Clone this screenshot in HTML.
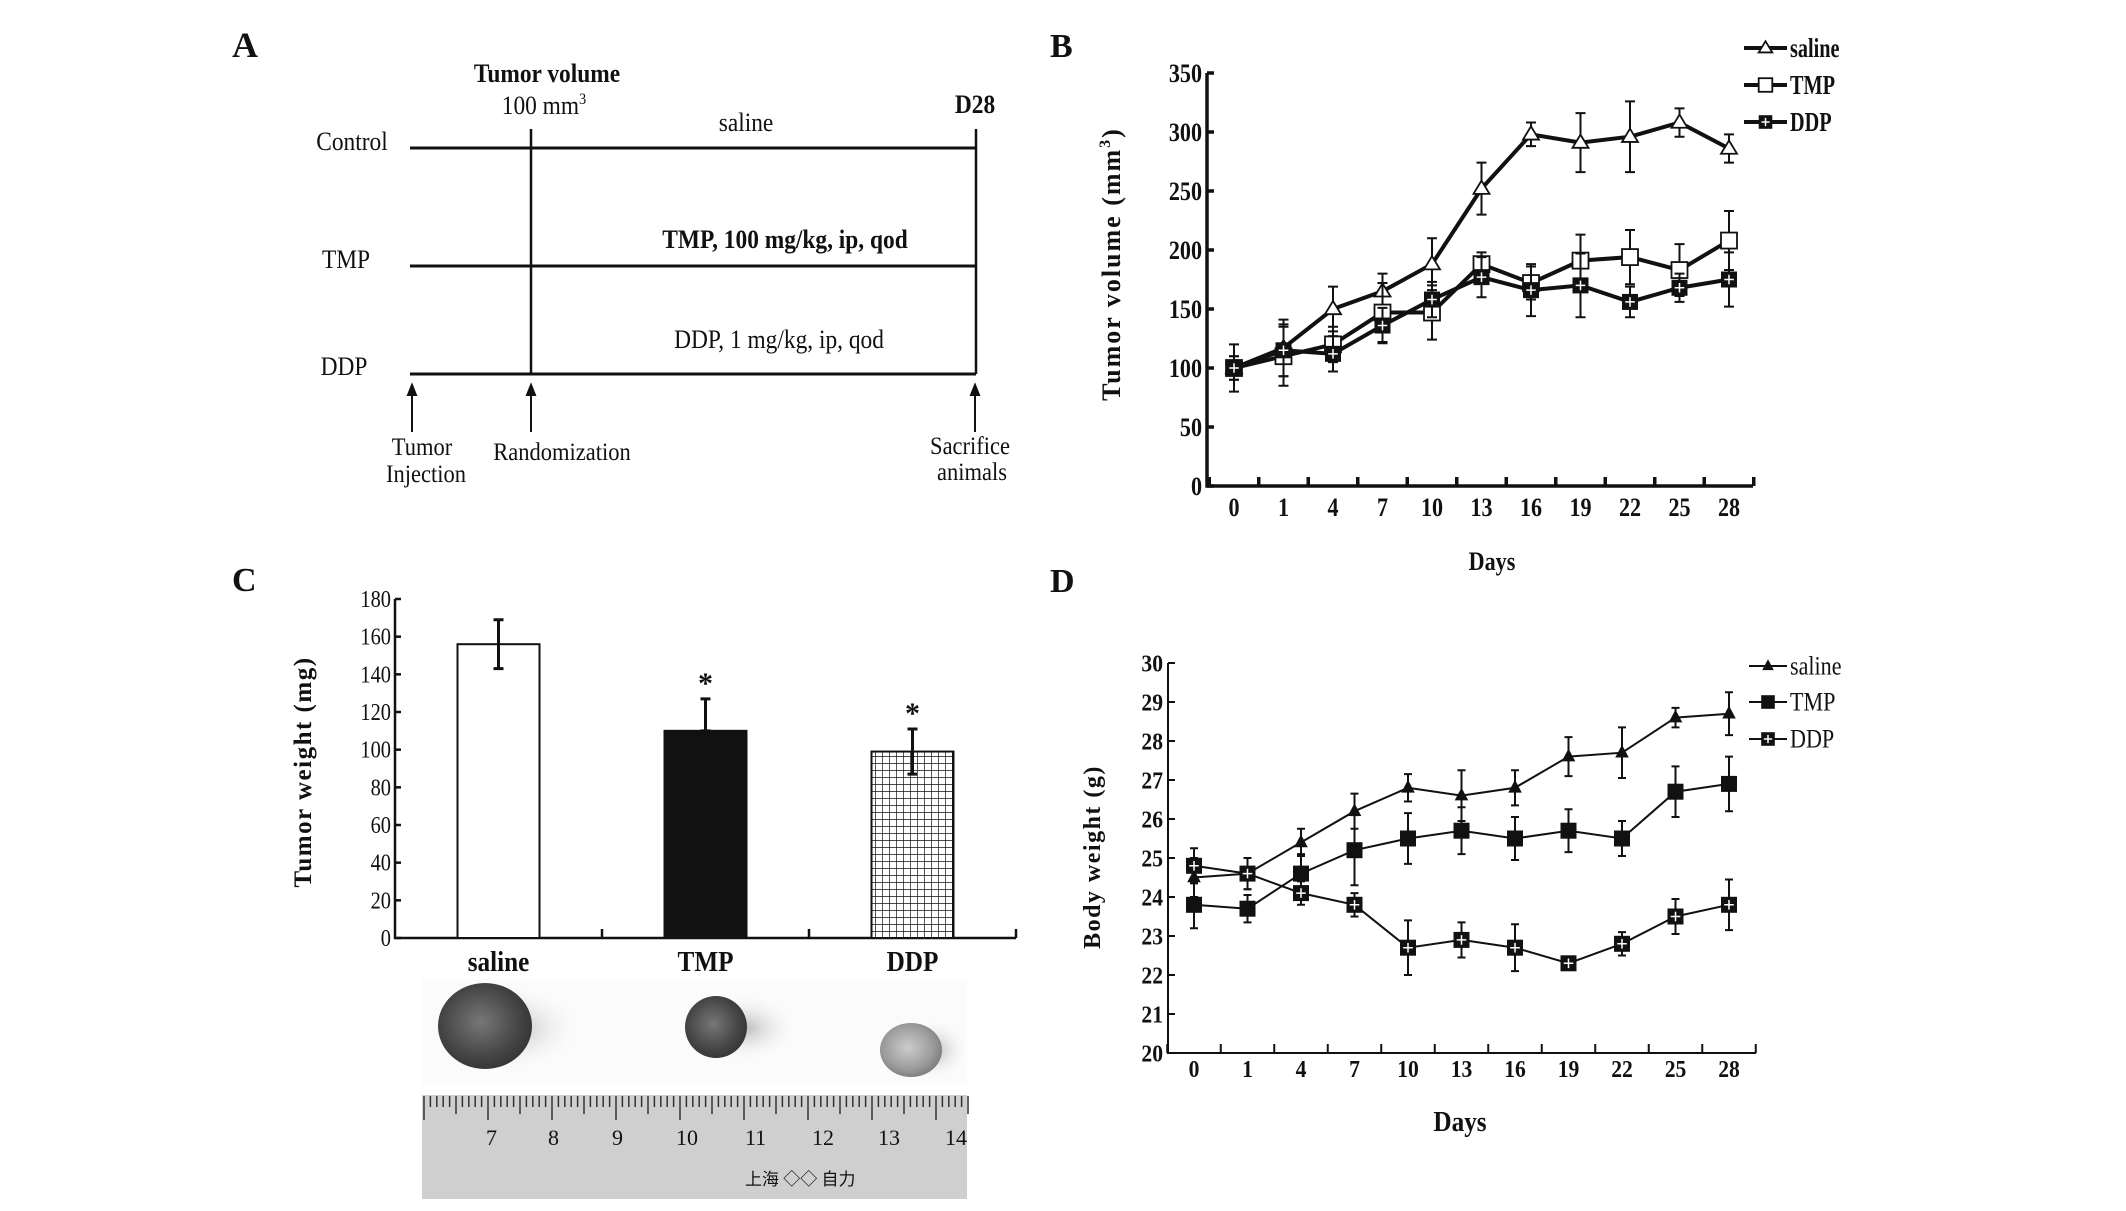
<!DOCTYPE html>
<html><head><meta charset="utf-8"><style>html,body{margin:0;padding:0;background:#fff;overflow:hidden}svg{display:block}text{font-family:"Liberation Serif",serif;fill:#111}</style></head>
<body>
<svg id="fig" width="2126" height="1211" viewBox="0 0 2126 1211" xmlns="http://www.w3.org/2000/svg">
<defs>
<pattern id="grid" width="7" height="7" patternUnits="userSpaceOnUse"><rect width="7" height="7" fill="#fff"/><path d="M0 0H7M0 0V7" stroke="#111" stroke-width="1.4"/></pattern>
<radialGradient id="tum" cx="0.45" cy="0.45" r="0.6"><stop offset="0" stop-color="#777"/><stop offset="0.7" stop-color="#444"/><stop offset="1" stop-color="#333"/></radialGradient>
<radialGradient id="tum2" cx="0.45" cy="0.45" r="0.6"><stop offset="0" stop-color="#ccc"/><stop offset="0.7" stop-color="#999"/><stop offset="1" stop-color="#777"/></radialGradient>
<radialGradient id="shadow" cx="0.5" cy="0.5" r="0.5"><stop offset="0" stop-color="#bbb"/><stop offset="1" stop-color="#fff" stop-opacity="0"/></radialGradient>
</defs>
<!-- Panel A -->
<g>
<text x="232" y="57" font-size="36" font-weight="bold">A</text>
<line x1="410" y1="148" x2="976" y2="148" stroke="#111" stroke-width="3"/>
<line x1="410" y1="266" x2="976" y2="266" stroke="#111" stroke-width="3"/>
<line x1="410" y1="374" x2="976" y2="374" stroke="#111" stroke-width="3"/>
<line x1="531" y1="129" x2="531" y2="374" stroke="#111" stroke-width="2.5"/>
<line x1="976" y1="129" x2="976" y2="374" stroke="#111" stroke-width="2.5"/>
<g stroke="#111" stroke-width="2" fill="#111">
<line x1="412" y1="432" x2="412" y2="392"/><path d="M408 395L412 385L416 395Z"/>
<line x1="531" y1="432" x2="531" y2="392"/><path d="M527 395L531 385L535 395Z"/>
<line x1="975" y1="432" x2="975" y2="392"/><path d="M971 395L975 385L979 395Z"/>
</g>
<g font-size="26" text-anchor="middle">
<text transform="translate(547,82) scale(0.9,1)" font-weight="bold">Tumor volume</text>
<text transform="translate(544,114) scale(0.9,1)">100 mm<tspan font-size="16" dy="-10">3</tspan></text>
<text transform="translate(975,113) scale(0.9,1)" font-weight="bold">D28</text>
<text transform="translate(746,131) scale(0.9,1)">saline</text>
<text transform="translate(352,150) scale(0.9,1)">Control</text>
<text transform="translate(346,268) scale(0.9,1)">TMP</text>
<text transform="translate(344,375) scale(0.9,1)">DDP</text>
<text transform="translate(785,248) scale(0.9,1)" font-weight="bold">TMP, 100 mg/kg, ip, qod</text>
<text transform="translate(779,348) scale(0.9,1)">DDP, 1 mg/kg, ip, qod</text>
<text transform="translate(422,455) scale(0.9,1)" font-size="25">Tumor</text>
<text transform="translate(426,482) scale(0.9,1)" font-size="25">Injection</text>
<text transform="translate(562,460) scale(0.9,1)" font-size="25">Randomization</text>
<text transform="translate(970,454) scale(0.9,1)" font-size="25">Sacrifice</text>
<text transform="translate(972,480) scale(0.9,1)" font-size="25">animals</text>
</g>
</g>
<text x="1050" y="57" font-size="34" font-weight="bold">B</text>
<text x="232" y="591" font-size="34" font-weight="bold">C</text>
<text x="1050" y="592" font-size="34" font-weight="bold">D</text>
<g id="gB"></g>
<g id="gC"></g>
<g id="gD"></g>
<!-- photo -->
<g>
<rect x="422" y="979" width="545" height="106" fill="#fbfbfb"/>
<ellipse cx="510" cy="1028" rx="75" ry="45" fill="url(#shadow)"/>
<ellipse cx="485" cy="1026" rx="47" ry="43" fill="url(#tum)"/>
<ellipse cx="745" cy="1028" rx="55" ry="36" fill="url(#shadow)"/>
<ellipse cx="716" cy="1027" rx="31" ry="31" fill="url(#tum)"/>
<ellipse cx="935" cy="1050" rx="35" ry="32" fill="url(#shadow)"/>
<ellipse cx="911" cy="1050" rx="31" ry="27" fill="url(#tum2)"/>
<rect x="422" y="1095" width="545" height="104" fill="#cfcfcf"/>
<g id="ruler"></g>
<g font-family="Liberation Sans" font-size="22" fill="#333">
<text x="486" y="1145">7</text><text x="548" y="1145">8</text><text x="612" y="1145">9</text><text x="676" y="1145">10</text><text x="745" y="1145">11</text><text x="812" y="1145">12</text><text x="878" y="1145">13</text><text x="945" y="1145">14</text>
</g>
<text x="745" y="1185" font-family="Liberation Sans, Noto Sans CJK SC, sans-serif" font-size="17" fill="#444">上海 ◇◇ 自力</text>
</g>
</svg>
<script>
const NS="http://www.w3.org/2000/svg";
function mk(p,t,a){const e=document.createElementNS(NS,t);for(const k in a)e.setAttribute(k,a[k]);p.appendChild(e);return e;}
function txt(p,x,y,s,size,anchor,sx,bold){const e=mk(p,"text",{transform:`translate(${x},${y}) scale(${sx||1},1)`,"font-size":size,"text-anchor":anchor||"middle","font-weight":bold?"bold":"normal"});e.textContent=s;return e;}

// ---- Data B ----
const daysB=["0","1","4","7","10","13","16","19","22","25","28"];
const salineB=[100,117,150,165,188,252,298,291,296,308,286];
const salineBErr=[20,24,19,15,22,22,10,25,30,12,12];
const tmpB=[100,110,120,147,147,188,172,191,194,183,208];
const tmpBErr=[10,25,15,25,23,10,14,22,23,22,25];
const ddpB=[100,115,112,136,158,177,166,170,156,168,175];
const ddpBErr=[10,22,15,15,15,17,22,27,13,12,23];
const ticksB=[0,50,100,150,200,250,300,350];
// ---- Data C ----
const groupsC=["saline","TMP","DDP"];
const weightC=[156,110,99];
const weightCErr=[13,17,12];
const ticksC=[0,20,40,60,80,100,120,140,160,180];
// ---- Data D ----
const daysD=["0","1","4","7","10","13","16","19","22","25","28"];
const salineD=[24.5,24.6,25.4,26.2,26.8,26.6,26.8,27.6,27.7,28.6,28.7];
const salineDErr=[0.5,0.4,0.35,0.45,0.35,0.65,0.45,0.5,0.65,0.25,0.55];
const tmpD=[23.8,23.7,24.6,25.2,25.5,25.7,25.5,25.7,25.5,26.7,26.9];
const tmpDErr=[0.6,0.35,0.5,0.9,0.65,0.6,0.55,0.55,0.45,0.65,0.7];
const ddpD=[24.8,24.6,24.1,23.8,22.7,22.9,22.7,22.3,22.8,23.5,23.8];
const ddpDErr=[0.45,0.4,0.3,0.3,0.7,0.45,0.6,0.1,0.3,0.45,0.65];
const ticksD=[20,21,22,23,24,25,26,27,28,29,30];

function marker(g,type,x,y,s,sw){
  if(type==="tri-open")return mk(g,"path",{d:`M${x} ${y-s}L${x+s} ${y+s*0.65}L${x-s} ${y+s*0.65}Z`,fill:"#fff",stroke:"#111","stroke-width":sw});
  if(type==="tri")return mk(g,"path",{d:`M${x} ${y-s}L${x+s*0.85} ${y+s*0.6}L${x-s*0.85} ${y+s*0.6}Z`,fill:"#111"});
  if(type==="sq-open")return mk(g,"rect",{x:x-s,y:y-s,width:2*s,height:2*s,fill:"#fff",stroke:"#111","stroke-width":sw});
  if(type==="sq")return mk(g,"rect",{x:x-s,y:y-s,width:2*s,height:2*s,fill:"#111"});
  const r=mk(g,"g",{});mk(r,"rect",{x:x-s,y:y-s,width:2*s,height:2*s,fill:"#111"});
  mk(r,"path",{d:`M${x-s*0.6} ${y}H${x+s*0.6}M${x} ${y-s*0.6}V${y+s*0.6}`,stroke:"#fff","stroke-width":1.5});return r;
}

function lineChart(g,cfg){
  const{x0,x1,c0,c1,y0,y1,vmin,vmax,cats,ticks,series,lw,ms,bw,axw,fs,sx}=cfg;
  const X=i=>c0+(c1-c0)*i/(cats.length-1);
  const Y=v=>y0+(y1-y0)*(v-vmin)/(vmax-vmin);
  const ax=mk(g,"g",{stroke:"#111","stroke-width":axw,fill:"none"});
  
  
  mk(ax,"path",{d:`M${x0} ${Y(vmax)}V${y0}H${x1}`});
  const step=(c1-c0)/(cats.length-1);
  for(let i=0;i<=cats.length;i++){const tx=c0-step/2+i*step;if(tx<=x1+1)mk(ax,"line",{x1:tx,y1:y0,x2:tx,y2:y0-9});}
  ticks.forEach(t=>{mk(ax,"line",{x1:x0,y1:Y(t),x2:x0+7,y2:Y(t)});
    const l=txt(g,x0-5,Y(t)+fs*0.35,String(t),fs,"end",sx,true);
    
    });
  cats.forEach((c,i)=>{const l=txt(g,X(i),cfg.tly,c,fs,"middle",sx,true);
    
    });
  series.forEach(s=>{
    const sg=mk(g,"g",{});
    
    
    s.vals.forEach((v,i)=>{const x=X(i);mk(sg,"path",{d:`M${x} ${Y(v-s.err[i])}V${Y(v+s.err[i])}M${x-bw} ${Y(v-s.err[i])}H${x+bw}M${x-bw} ${Y(v+s.err[i])}H${x+bw}`,stroke:"#111","stroke-width":2,fill:"none"});});
    mk(sg,"polyline",{points:s.vals.map((v,i)=>X(i)+","+Y(v)).join(" "),fill:"none",stroke:"#111","stroke-width":lw});
    s.vals.forEach((v,i)=>{const m=marker(sg,s.m,X(i),Y(v),ms,1.8);
      
      });
  });
  cfg.legend.forEach((s,i)=>{const y=cfg.ly[i];const lg=mk(g,"g",{});
    
    
    mk(lg,"line",{x1:cfg.lx0,y1:y,x2:cfg.lx1,y2:y,stroke:"#111","stroke-width":lw});
    marker(lg,s.m,(cfg.lx0+cfg.lx1)/2,y,ms*0.85,1.8);
    txt(lg,cfg.lx1+3,y+fs*0.35,s.label,cfg.lfs,"start",cfg.lsx,cfg.lbold);});
}

const gB=document.getElementById("gB");
const serB=[{name:"saline-series",label:"saline",vals:salineB,err:salineBErr,m:"tri-open"},{name:"tmp-series",label:"TMP",vals:tmpB,err:tmpBErr,m:"sq-open"},{name:"ddp-series",label:"DDP",vals:ddpB,err:ddpBErr,m:"sq-cross"}];
lineChart(gB,{x0:1207,x1:1753,c0:1234,c1:1729,y0:486,y1:73,vmin:0,vmax:350,cats:daysB,ticks:ticksB,series:serB,lw:4,ms:8,bw:5,axw:3.5,fs:26,sx:0.85,tly:516,legend:serB,ly:[48,85,122],lx0:1744,lx1:1787,lfs:27,lsx:0.75,lbold:true});
let t=txt(gB,1492,570,"Days",26,"middle",0.85,true);
t=mk(gB,"text",{transform:"translate(1120,264) rotate(-90)","font-size":26,"font-weight":"bold","text-anchor":"middle","letter-spacing":"2"});t.innerHTML='Tumor volume (mm<tspan font-size="16" dy="-10">3</tspan><tspan dy="10">)</tspan>';


const gD=document.getElementById("gD");
const serD=[{name:"saline-series",label:"saline",vals:salineD,err:salineDErr,m:"tri"},{name:"tmp-series",label:"TMP",vals:tmpD,err:tmpDErr,m:"sq"},{name:"ddp-series",label:"DDP",vals:ddpD,err:ddpDErr,m:"sq-cross"}];
lineChart(gD,{x0:1168,x1:1756,c0:1194,c1:1729,y0:1053,y1:663,vmin:20,vmax:30,cats:daysD,ticks:ticksD,series:serD,lw:2,ms:8,bw:4,axw:2,fs:24,sx:0.9,tly:1077,legend:serD,ly:[666,702,739],lx0:1749,lx1:1787,lfs:26,lsx:0.85,lbold:false});
t=txt(gD,1460,1131,"Days",28,"middle",0.9,true);
t=mk(gD,"text",{transform:"translate(1100,857) rotate(-90)","font-size":24,"font-weight":"bold","text-anchor":"middle","letter-spacing":"1.5"});t.textContent="Body weight (g)";


// Bar chart C
const gC=document.getElementById("gC");
(function(){
  const x0=395,x1=1016,y0=938,y1=599,vmax=180;
  const Y=v=>y0+(y1-y0)*v/vmax;
  const bandW=(x1-x0)/groupsC.length, barW=82;
  const fills=["#fff","#111","url(#grid)"];
  const ax=mk(gC,"g",{stroke:"#111","stroke-width":2.5,fill:"none"});
  
  
  mk(ax,"path",{d:`M${x0} ${y1}V${y0}H${x1}`});
  for(let i=1;i<=groupsC.length;i++)mk(ax,"line",{x1:x0+i*bandW,y1:y0,x2:x0+i*bandW,y2:y0-9});
  ticksC.forEach(v=>{mk(ax,"line",{x1:x0,y1:Y(v),x2:x0+6,y2:Y(v)});
    const l=txt(gC,x0-4,Y(v)+8,String(v),24,"end",0.85,false);
    
    });
  groupsC.forEach((gname,i)=>{
    const cx=x0+bandW*(i+0.5);
    const b=mk(gC,"rect",{x:cx-barW/2,y:Y(weightC[i]),width:barW,height:y0-Y(weightC[i]),fill:fills[i],stroke:"#111","stroke-width":2});
    
    
    const lo=i===1?weightC[i]:weightC[i]-weightCErr[i], hi=weightC[i]+weightCErr[i];
    mk(gC,"path",{d:`M${cx} ${Y(lo)}V${Y(hi)}M${cx-5} ${Y(hi)}H${cx+5}M${cx-5} ${Y(lo)}H${cx+5}`,stroke:"#111","stroke-width":3,fill:"none"});
    if(i>0){const s=txt(gC,cx,Y(hi)-6,"*",30,"middle",1,true);}
    const l=txt(gC,cx,971,gname,28,"middle",0.9,true);
    
    
  });
  const yt=mk(gC,"text",{transform:"translate(311,772) rotate(-90)","font-size":25,"font-weight":"bold","text-anchor":"middle","letter-spacing":"1.5"});yt.textContent="Tumor weight (mg)";
  
})();
// ruler ticks
(function(){const r=document.getElementById("ruler");let d="";
  for(let i=0;i<=85;i++){const x=424+i*6.4;const h=i%10===0?24:(i%5===0?18:11);d+=`M${x} 1096V${1096+h}`;}
  mk(r,"path",{d:d,stroke:"#333","stroke-width":1.5});})();
</script>
</body></html>
